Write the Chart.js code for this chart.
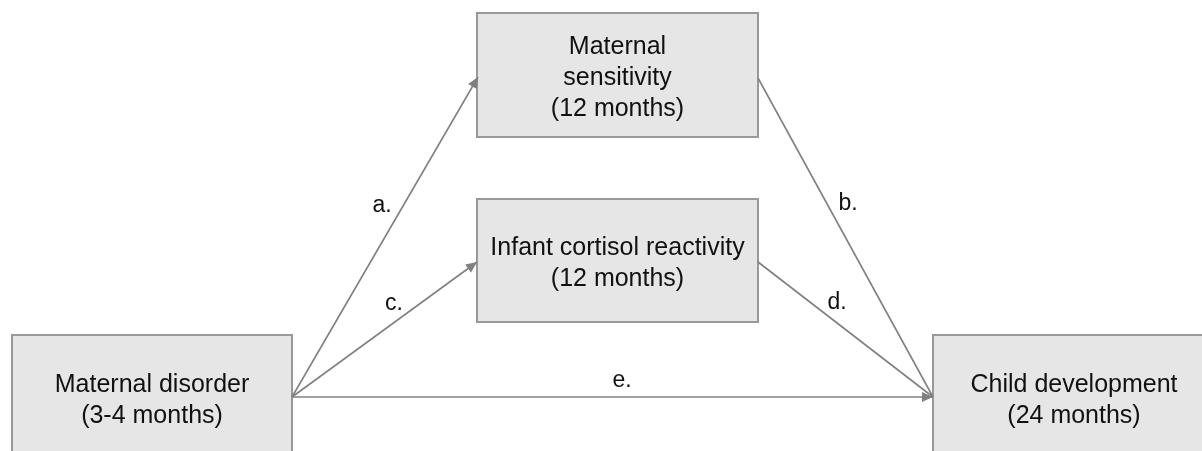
<!DOCTYPE html>
<html>
<head>
<meta charset="utf-8">
<script src="https://cdn.jsdelivr.net/npm/chart.js@4.4.0/dist/chart.umd.min.js"></script>
<style>
  html, body { margin: 0; padding: 0; background: #fff; }
  #wrap { width: 1202px; height: 451px; position: relative; }
</style>
</head>
<body>
<div id="wrap"><canvas id="diagram"></canvas></div>
<script>
// ---- Data (diagram units = picture pixels, y grows downward) -------------
const nodeLabels = [
  ["Maternal disorder", "(3-4 months)"],
  ["Maternal", "sensitivity", "(12 months)"],
  ["Infant cortisol reactivity", "(12 months)"],
  ["Child development", "(24 months)"],
];
const nodeLeft = [12, 477, 477, 933];
const nodeTop = [335, 13, 199, 335];
const nodeRight = [292, 758, 758, 1215];
const nodeBottom = [470, 137, 322, 470];

const pathLabels = ["a.", "b.", "c.", "d.", "e."];
const pathFromX = [292, 758, 292, 758, 292];
const pathFromY = [397, 78, 397, 262, 397];
const pathToX = [478, 933, 477, 933, 933];
const pathToY = [77, 397, 262, 397, 397];
const pathArrow = [true, false, true, false, true];
const pathLabelX = [382, 848, 394, 837, 622];
const pathLabelY = [206, 204, 304, 303, 381];

// ---- Helpers -------------------------------------------------------------
const LINE = "#808080";
const VISIBLE_BOTTOM = 460; // boxes that run off the picture are centred on this

function edgeDatasets() {
  return pathLabels.map((lab, i) => ({
    label: lab,
    data: [
      { x: pathFromX[i], y: pathFromY[i] },
      { x: pathToX[i], y: pathToY[i] },
    ],
    showLine: true,
    borderColor: LINE,
    borderWidth: 1.6,
    pointRadius: 0,
    clip: false,
  }));
}

const diagramPlugin = {
  id: "diagram",
  beforeDatasetsDraw(chart) {
    const { ctx, scales } = chart;
    const x = scales.x, y = scales.y;
    ctx.save();
    nodeLabels.forEach((_, i) => {
      const l = x.getPixelForValue(nodeLeft[i]);
      const r = x.getPixelForValue(nodeRight[i]);
      const t = y.getPixelForValue(nodeTop[i]);
      const b = y.getPixelForValue(nodeBottom[i]);
      ctx.fillStyle = "#e6e6e6";
      ctx.fillRect(l, t, r - l, b - t);
      ctx.strokeStyle = "#999999";
      ctx.lineWidth = 2;
      ctx.strokeRect(l, t, r - l, b - t);
    });
    ctx.restore();
  },
  afterDatasetsDraw(chart) {
    const { ctx, scales } = chart;
    const x = scales.x, y = scales.y;
    ctx.save();

    // arrow heads
    ctx.fillStyle = LINE;
    pathLabels.forEach((_, i) => {
      if (!pathArrow[i]) return;
      const x1 = x.getPixelForValue(pathFromX[i]);
      const y1 = y.getPixelForValue(pathFromY[i]);
      const x2 = x.getPixelForValue(pathToX[i]);
      const y2 = y.getPixelForValue(pathToY[i]);
      const a = Math.atan2(y2 - y1, x2 - x1);
      const len = 11, half = 5;
      ctx.beginPath();
      ctx.moveTo(x2, y2);
      ctx.lineTo(x2 - len * Math.cos(a) + half * Math.sin(a), y2 - len * Math.sin(a) - half * Math.cos(a));
      ctx.lineTo(x2 - len * Math.cos(a) - half * Math.sin(a), y2 - len * Math.sin(a) + half * Math.cos(a));
      ctx.closePath();
      ctx.fill();
    });

    // node texts
    ctx.fillStyle = "#111111";
    ctx.textAlign = "center";
    ctx.textBaseline = "middle";
    ctx.font = "25px 'Liberation Sans', Arial, sans-serif";
    nodeLabels.forEach((lines, i) => {
      const cx = x.getPixelForValue((nodeLeft[i] + Math.min(nodeRight[i], 1215)) / 2);
      const top = y.getPixelForValue(nodeTop[i]);
      const bot = y.getPixelForValue(Math.min(nodeBottom[i], VISIBLE_BOTTOM));
      const cy = (top + bot) / 2 + 3;
      const lh = 31;
      lines.forEach((s, k) => {
        ctx.fillText(s, cx, cy + (k - (lines.length - 1) / 2) * lh);
      });
    });

    // path letters
    ctx.font = "23px 'Liberation Sans', Arial, sans-serif";
    pathLabels.forEach((lab, i) => {
      ctx.fillText(lab, x.getPixelForValue(pathLabelX[i]), y.getPixelForValue(pathLabelY[i]));
    });
    ctx.restore();
  },
};

// ---- Init ----------------------------------------------------------------
new Chart(document.getElementById("diagram").getContext("2d"), {
  type: "scatter",
  data: { datasets: edgeDatasets() },
  options: {
    responsive: true,
    maintainAspectRatio: false,
    animation: false,
    events: [],
    layout: { padding: 0 },
    plugins: { legend: { display: false }, tooltip: { enabled: false } },
    scales: {
      x: { type: "linear", min: 0, max: 1202, display: false },
      y: { type: "linear", min: 0, max: 451, reverse: true, display: false },
    },
  },
  plugins: [diagramPlugin],
});
</script>
</body>
</html>
